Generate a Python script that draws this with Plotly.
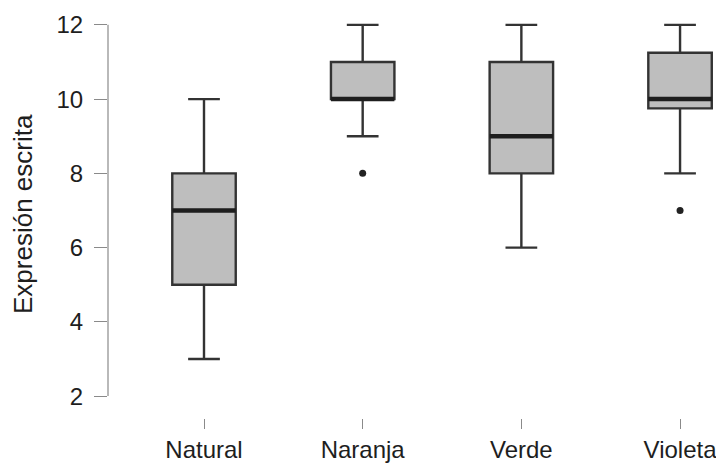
import plotly.graph_objects as go

# Data
categories = ["Natural", "Naranja", "Verde", "Violeta"]
lower_whisker = [3, 9, 6, 8]
q1 = [5, 10, 8, 9.75]
median = [7, 10, 9, 10]
q3 = [8, 11, 11, 11.25]
upper_whisker = [10, 12, 12, 12]
outlier_cats = ["Naranja", "Violeta"]
outlier_vals = [8, 7]
y_ticks = [2, 4, 6, 8, 10, 12]

FONT = "Liberation Sans, Arial, sans-serif"
BOX_FILL = "#bebebe"
LINE = "#333333"

fig = go.Figure()

fig.add_trace(go.Box(
    x=categories,
    q1=q1, median=median, q3=q3,
    lowerfence=lower_whisker, upperfence=upper_whisker,
    fillcolor=BOX_FILL,
    line=dict(color=LINE, width=2.4),
    whiskerwidth=0.5,
    boxpoints=False,
    hoverinfo="skip",
    showlegend=False,
))

# thick median bars (degenerate boxes at the median)
fig.add_trace(go.Box(
    x=categories,
    q1=median, median=median, q3=median,
    lowerfence=median, upperfence=median,
    fillcolor="rgba(0,0,0,0)",
    line=dict(color="#1e1e1e", width=4.5),
    whiskerwidth=0,
    boxpoints=False,
    hoverinfo="skip",
    showlegend=False,
))

fig.add_trace(go.Scatter(
    x=outlier_cats, y=outlier_vals, mode="markers",
    marker=dict(color="#222222", size=7),
    hoverinfo="skip", showlegend=False,
))

# y axis line spanning only the tick range (R style)
fig.add_shape(type="line", xref="paper", yref="y",
              x0=0, x1=0, y0=min(y_ticks), y1=max(y_ticks),
              line=dict(color="#8a8a8a", width=1.2))

fig.add_annotation(text="Expresión escrita", xref="paper", yref="paper",
                   x=-0.138, y=0.5, textangle=-90, showarrow=False,
                   xanchor="center", yanchor="middle",
                   font=dict(family=FONT, size=26, color="#1e1e1e"))

# the page body adds an 8px offset, so the figure is 8px smaller
fig.update_layout(
    width=716, height=455,
    margin=dict(l=100, r=0, t=2, b=45),
    paper_bgcolor="white", plot_bgcolor="white",
    boxmode="overlay", boxgap=0.6, boxgroupgap=0,
    font=dict(family=FONT, size=24, color="#1e1e1e"),
    xaxis=dict(
        type="category", categoryorder="array", categoryarray=categories,
        range=[-0.605, 3.277], automargin=False,
        showline=False, showgrid=False, zeroline=False,
        ticks="outside", ticklen=10, tickwidth=1.2, tickcolor="#8a8a8a",
        tickfont=dict(family=FONT, size=24, color="#1e1e1e"),
    ),
    yaxis=dict(
        range=[1.41, 12.4], automargin=False,
        tickvals=y_ticks,
        showline=False, showgrid=False, zeroline=False,
        ticks="outside", ticklen=13, tickwidth=1.2, tickcolor="#8a8a8a",
        ticklabelstandoff=6,
        tickfont=dict(family=FONT, size=24, color="#1e1e1e"),
    ),
)

fig.write_html("out.html")
